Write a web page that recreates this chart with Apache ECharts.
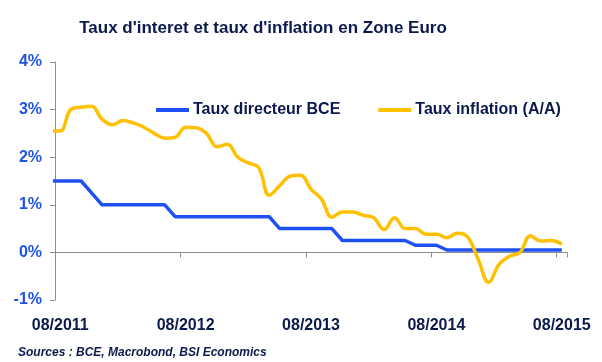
<!DOCTYPE html>
<html>
<head>
<meta charset="utf-8">
<script src="https://cdn.jsdelivr.net/npm/echarts@6/dist/echarts.min.js"></script>
<style>
html,body{margin:0;padding:0;background:#fff;}
#c{width:602px;height:362px;}
</style>
</head>
<body>
<div id="c"></div>
<script>
// Months (first one, 07/2011, lies just before the axis start and is clipped)
const months = ['07/2011','08/2011','09/2011','10/2011','11/2011','12/2011',
  '01/2012','02/2012','03/2012','04/2012','05/2012','06/2012','07/2012','08/2012','09/2012','10/2012','11/2012','12/2012',
  '01/2013','02/2013','03/2013','04/2013','05/2013','06/2013','07/2013','08/2013','09/2013','10/2013','11/2013','12/2013',
  '01/2014','02/2014','03/2014','04/2014','05/2014','06/2014','07/2014','08/2014','09/2014','10/2014','11/2014','12/2014',
  '01/2015','02/2015','03/2015','04/2015','05/2015','06/2015','07/2015','08/2015'];

const refiRate = [1.5,
  1.5,1.5,1.5,1.25,1.0,
  1.0,1.0,1.0,1.0,1.0,1.0,0.75,0.75,0.75,0.75,0.75,0.75,
  0.75,0.75,0.75,0.75,0.5,0.5,0.5,0.5,0.5,0.5,0.25,0.25,
  0.25,0.25,0.25,0.25,0.25,0.15,0.15,0.15,0.05,0.05,0.05,0.05,
  0.05,0.05,0.05,0.05,0.05,0.05,0.05,0.05];

const inflation = [2.55,
  2.55,3.0,3.05,3.07,2.8,
  2.68,2.77,2.72,2.63,2.5,2.4,2.42,2.63,2.62,2.5,2.22,2.27,
  2.0,1.88,1.78,1.2,1.4,1.6,1.62,1.33,1.12,0.74,0.85,0.85,
  0.78,0.73,0.48,0.73,0.5,0.5,0.38,0.38,0.31,0.4,0.32,-0.15,
  -0.63,-0.25,-0.08,0.0,0.35,0.24,0.25,0.17];

const seriesNames = ['Taux directeur BCE', 'Taux inflation (A/A)'];
const yTicks = [-1, 0, 1, 2, 3, 4];
const titleText = "Taux d'interet et taux d'inflation en Zone Euro";
const sourceText = 'Sources : BCE, Macrobond, BSI Economics';

const sansFont = '"Liberation Sans", Arial, sans-serif';
const navy = '#0B1A4C';
const blue = '#1E50F5';
const gold = '#FFC000';
const axisGray = '#8C8C8C';

const cats = months.slice(1);
const chart = echarts.init(document.getElementById('c'), null, {renderer: 'canvas'});
chart.setOption({
  animation: false,
  backgroundColor: '#fff',
  title: [{
    text: titleText,
    left: 258, top: 15, textAlign: 'center',
    textStyle: {fontFamily: sansFont, fontWeight: 'bold', fontSize: 17, color: navy}
  }, {
    text: sourceText,
    left: 13, top: 342,
    textStyle: {fontFamily: sansFont, fontWeight: 'bold', fontStyle: 'italic', fontSize: 12, color: navy}
  }],
  legend: {
    left: 151, top: 97,
    itemWidth: 33, itemHeight: 4, itemGap: 38,
    icon: 'rect',
    textStyle: {fontFamily: sansFont, fontWeight: 'bold', fontSize: 16, color: navy, padding: [0,0,0,-1]},
    data: seriesNames
  },
  grid: {left: 55, right: 35, top: 62, bottom: 62, containLabel: false, outerBoundsMode: 'none'},
  xAxis: [{
    // bottom labels only
    type: 'category',
    data: cats,
    boundaryGap: true,
    position: 'bottom',
    axisLine: {show: false, onZero: false},
    axisTick: {show: false},
    axisLabel: {
      interval: 11, margin: 18,
      fontFamily: sansFont, fontWeight: 'bold', fontSize: 16, color: navy
    },
    splitLine: {show: false}
  }, {
    type: 'value', min: 0, max: cats.length, show: false,
    axisLine: {onZero: false}
  }, {
    // zero line with yearly ticks
    type: 'category',
    data: cats,
    boundaryGap: true,
    axisLine: {show: true, onZero: true, lineStyle: {color: axisGray, width: 1}},
    axisTick: {show: true, inside: true, length: 5, interval: 11, lineStyle: {color: axisGray}},
    axisLabel: {show: false},
    splitLine: {show: false}
  }],
  yAxis: {
    type: 'value', min: yTicks[0], max: yTicks[yTicks.length - 1], interval: 1,
    axisLine: {show: true, onZero: false, lineStyle: {color: axisGray, width: 1}},
    axisTick: {show: true, length: 5, lineStyle: {color: axisGray}},
    axisLabel: {
      margin: 13, formatter: '{value}%',
      fontFamily: sansFont, fontWeight: 'bold', fontSize: 16, color: '#2152E6'
    },
    splitLine: {show: false}
  },
  series: [{
    name: seriesNames[0], type: 'line', xAxisIndex: 1,
    data: refiRate.map((v, i) => [i - 0.5, v]),
    showSymbol: false, symbol: 'none', clip: true,
    lineStyle: {color: blue, width: 3.5}, itemStyle: {color: blue}
  }, {
    name: seriesNames[1], type: 'line', xAxisIndex: 1,
    data: inflation.map((v, i) => [i - 0.5, v]),
    smooth: 0.4, showSymbol: false, symbol: 'none', clip: true,
    lineStyle: {color: gold, width: 3.5}, itemStyle: {color: gold}
  }]
});
</script>
</body>
</html>
